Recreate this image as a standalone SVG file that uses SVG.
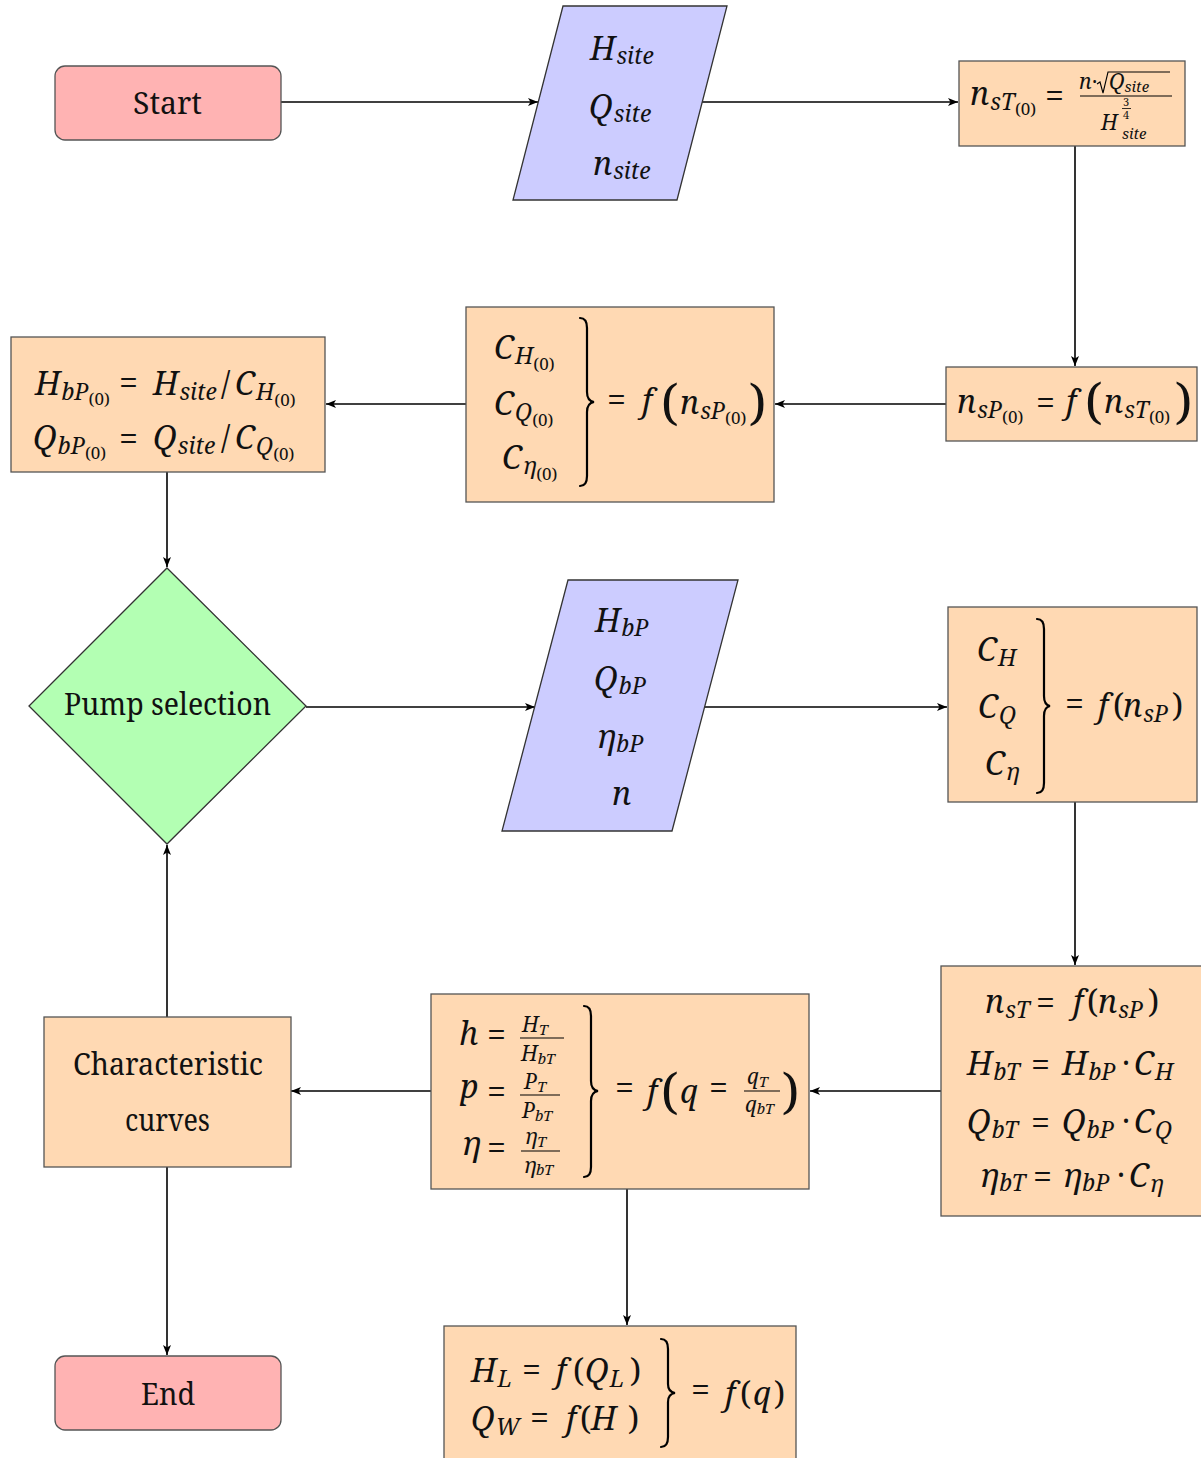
<svg xmlns="http://www.w3.org/2000/svg" width="1201" height="1458" viewBox="0 0 1201 1458">
<style>
.box{fill:#ffd9b3;stroke:#555;stroke-width:1.3}
.term{fill:#ffb3b3;stroke:#555;stroke-width:1.3}
.io{fill:#ccccff;stroke:#333;stroke-width:1.3}
.dec{fill:#b3ffb3;stroke:#333;stroke-width:1.3}
.edge{fill:none;stroke:#000;stroke-width:1.6;marker-end:url(#arr)}
.brace{fill:none;stroke:#000;stroke-width:2.2;stroke-linecap:round}
.bar{stroke:#000;stroke-width:1.2}
.t{font-size:31px}
.m{font-size:32px;font-style:italic}
.s{font-size:23px;font-style:italic}
.ss{font-size:17px;font-style:italic}
.f{font-size:21px;font-style:italic}
.fs{font-size:15px;font-style:italic}
.u{font-style:normal}
.eq{font-size:34px;font-style:normal}
.big{font-size:50px;font-style:normal}
</style>
<defs>
<marker id="arr" viewBox="0 0 10 8" refX="10" refY="4" markerWidth="10" markerHeight="8" markerUnits="userSpaceOnUse" orient="auto">
<path d="M0,0 L10,4 L0,8 L2.5,4 z" fill="#000"/>
</marker>
</defs>

<g id="connectors">
<path class="edge" d="M281,102 H538"/>
<path class="edge" d="M702,102 H958"/>
<path class="edge" d="M1075,146 V366"/>
<path class="edge" d="M946,404 H775"/>
<path class="edge" d="M466,404 H326"/>
<path class="edge" d="M167,472 V567"/>
<path class="edge" d="M306,707 H535"/>
<path class="edge" d="M705,707 H947"/>
<path class="edge" d="M1075,802 V965"/>
<path class="edge" d="M941,1091 H810"/>
<path class="edge" d="M431,1091 H291"/>
<path class="edge" d="M627,1189 V1325"/>
<path class="edge" d="M167,1017 V845"/>
<path class="edge" d="M167,1167 V1355"/>
</g>

<g font-family="'Noto Serif', 'Liberation Serif', serif" fill="#111">
<g id="start">
<rect class="term" x="55" y="66" width="226" height="74" rx="10"/>
<text class="t" x="133" y="114" textLength="69" lengthAdjust="spacingAndGlyphs">Start</text>
</g>

<g id="input-site">
<polygon class="io" points="563,6 727,6 677,200 513,200"/>
<text class="m"><tspan x="590" y="60">H</tspan><tspan class="s" dx="1" dy="4">site</tspan></text>
<text class="m"><tspan x="589" y="118">Q</tspan><tspan class="s" dx="1" dy="4">site</tspan></text>
<text class="m"><tspan x="593" y="175">n</tspan><tspan class="s" dx="1" dy="4">site</tspan></text>
</g>

<g id="nsT0">
<rect class="box" x="959" y="61" width="226" height="85"/>
<text class="m"><tspan x="970" y="105">n</tspan><tspan class="s" dx="1" dy="5">sT</tspan><tspan class="ss u" dy="5">(0)</tspan></text>
<text class="eq" x="1045" y="108">=</text>
<text class="f"><tspan x="1079" y="89">n</tspan><tspan class="u" x="1092" y="89">·</tspan><tspan x="1109" y="89">Q</tspan><tspan class="fs" dy="3">site</tspan></text>
<path d="M1097,84 L1100,82 L1103,93 L1108,72 L1170,72" fill="none" stroke="#000" stroke-width="1.1"/>
<line class="bar" x1="1080" y1="96" x2="1172" y2="96"/>
<text class="f" x="1101" y="130">H</text>
<text class="fs" x="1122" y="139">site</text>
<text font-size="11"><tspan x="1123" y="106">3</tspan><tspan x="1123" y="119">4</tspan></text>
<line x1="1122" y1="108.5" x2="1131" y2="108.5" stroke="#000" stroke-width="0.8"/>
</g>

<g id="nsP0">
<rect class="box" x="946" y="367" width="251" height="74"/>
<text class="m"><tspan x="957" y="413">n</tspan><tspan class="s" dx="1" dy="5">sP</tspan><tspan class="ss u" dy="5">(0)</tspan></text>
<text class="eq" x="1036" y="415">=</text>
<text class="m" x="1066" y="413">f</text>
<text class="big" x="1085" y="419">(</text>
<text class="m"><tspan x="1104" y="413">n</tspan><tspan class="s" dx="1" dy="5">sT</tspan><tspan class="ss u" dy="5">(0)</tspan></text>
<text class="big" x="1175" y="419">)</text>
</g>

<g id="coef0">
<rect class="box" x="466" y="307" width="308" height="195"/>
<text class="m"><tspan x="494" y="359">C</tspan><tspan class="s" dx="1" dy="5">H</tspan><tspan class="ss u" dy="6">(0)</tspan></text>
<text class="m"><tspan x="494" y="415">C</tspan><tspan class="s" dx="1" dy="5">Q</tspan><tspan class="ss u" dy="6">(0)</tspan></text>
<text class="m"><tspan x="502" y="469">C</tspan><tspan class="s" dx="1" dy="5">η</tspan><tspan class="ss u" dy="6">(0)</tspan></text>
<path class="brace" d="M580,318 Q587,318 587,328 L587,392 Q587,401 594,402 Q587,403 587,412 L587,476 Q587,486 580,486"/>
<text class="eq" x="607" y="412">=</text>
<text class="m" x="642" y="412">f</text>
<text class="big" x="661" y="420">(</text>
<text class="m"><tspan x="680" y="414">n</tspan><tspan class="s" dx="1" dy="5">sP</tspan><tspan class="ss u" dy="5">(0)</tspan></text>
<text class="big" x="749" y="420">)</text>
</g>

<g id="best0">
<rect class="box" x="11" y="337" width="314" height="135"/>
<text class="m"><tspan x="35" y="395">H</tspan><tspan class="s" dx="1" dy="5">bP</tspan><tspan class="ss u" dy="5">(0)</tspan><tspan class="eq" x="119" y="395">=</tspan><tspan x="153" y="395">H</tspan><tspan class="s" dx="1" dy="5">site</tspan><tspan class="u" x="221" y="395">/</tspan><tspan x="235" y="395">C</tspan><tspan class="s" dx="1" dy="5">H</tspan><tspan class="ss u" dy="6">(0)</tspan></text>
<text class="m"><tspan x="33" y="449">Q</tspan><tspan class="s" dx="1" dy="5">bP</tspan><tspan class="ss u" dy="5">(0)</tspan><tspan class="eq" x="119" y="451">=</tspan><tspan x="153" y="449">Q</tspan><tspan class="s" dx="1" dy="5">site</tspan><tspan class="u" x="221" y="449">/</tspan><tspan x="235" y="449">C</tspan><tspan class="s" dx="1" dy="5">Q</tspan><tspan class="ss u" dy="6">(0)</tspan></text>
</g>

<g id="pump-selection">
<polygon class="dec" points="167,568 306,706 167,844 29,706"/>
<text class="t" x="64" y="715" textLength="207" lengthAdjust="spacingAndGlyphs">Pump selection</text>
</g>

<g id="input-pump">
<polygon class="io" points="568,580 738,580 672,831 502,831"/>
<text class="m"><tspan x="595" y="632">H</tspan><tspan class="s" dx="1" dy="4">bP</tspan></text>
<text class="m"><tspan x="594" y="690">Q</tspan><tspan class="s" dx="1" dy="4">bP</tspan></text>
<text class="m"><tspan x="597" y="748">η</tspan><tspan class="s" dx="1" dy="4">bP</tspan></text>
<text class="m" x="612" y="805">n</text>
</g>

<g id="coef">
<rect class="box" x="948" y="607" width="249" height="195"/>
<text class="m"><tspan x="977" y="661">C</tspan><tspan class="s" dx="1" dy="5">H</tspan></text>
<text class="m"><tspan x="978" y="718">C</tspan><tspan class="s" dx="1" dy="5">Q</tspan></text>
<text class="m"><tspan x="985" y="775">C</tspan><tspan class="s" dx="1" dy="5">η</tspan></text>
<path class="brace" d="M1037,619 Q1044,619 1044,629 L1044,696 Q1044,705 1050,706 Q1044,707 1044,716 L1044,783 Q1044,793 1037,793"/>
<text class="eq" x="1065" y="716">=</text>
<text class="m"><tspan x="1098" y="717">f</tspan><tspan class="u" x="1113" y="717">(</tspan><tspan x="1123" y="717">n</tspan><tspan class="s" dx="1" dy="5">sP</tspan><tspan class="u" x="1172" y="717">)</tspan></text>
</g>

<g id="turbine">
<rect class="box" x="941" y="966" width="262" height="250"/>
<text class="m"><tspan x="985" y="1013">n</tspan><tspan class="s" dx="1" dy="5">sT</tspan><tspan class="eq" x="1036" y="1015">=</tspan><tspan x="1073" y="1013">f</tspan><tspan class="u" x="1087" y="1013">(</tspan><tspan x="1098" y="1013">n</tspan><tspan class="s" dx="1" dy="5">sP</tspan><tspan class="u" x="1148" y="1013">)</tspan></text>
<text class="m"><tspan x="967" y="1075">H</tspan><tspan class="s" dx="1" dy="5">bT</tspan><tspan class="eq" x="1031" y="1077">=</tspan><tspan x="1062" y="1075">H</tspan><tspan class="s" dx="1" dy="5">bP</tspan><tspan class="u" x="1122" y="1075">·</tspan><tspan x="1134" y="1075">C</tspan><tspan class="s" dx="1" dy="5">H</tspan></text>
<text class="m"><tspan x="967" y="1133">Q</tspan><tspan class="s" dx="1" dy="5">bT</tspan><tspan class="eq" x="1031" y="1135">=</tspan><tspan x="1062" y="1133">Q</tspan><tspan class="s" dx="1" dy="5">bP</tspan><tspan class="u" x="1122" y="1133">·</tspan><tspan x="1134" y="1133">C</tspan><tspan class="s" dx="1" dy="5">Q</tspan></text>
<text class="m"><tspan x="980" y="1187">η</tspan><tspan class="s" dx="1" dy="4">bT</tspan><tspan class="eq" x="1033" y="1189">=</tspan><tspan x="1063" y="1187">η</tspan><tspan class="s" dx="1" dy="4">bP</tspan><tspan class="u" x="1117" y="1187">·</tspan><tspan x="1129" y="1187">C</tspan><tspan class="s" dx="1" dy="5">η</tspan></text>
</g>

<g id="dimensionless">
<rect class="box" x="431" y="994" width="378" height="195"/>
<text class="m"><tspan x="459" y="1045">h</tspan><tspan class="eq" x="487" y="1047">=</tspan></text>
<text class="f"><tspan x="522" y="1032">H</tspan><tspan class="fs" dy="3">T</tspan></text>
<line class="bar" x1="520" y1="1038" x2="564" y2="1038"/>
<text class="f"><tspan x="521" y="1061">H</tspan><tspan class="fs" dy="3">bT</tspan></text>
<text class="m"><tspan x="460" y="1098">p</tspan><tspan class="eq" x="487" y="1104">=</tspan></text>
<text class="f"><tspan x="524" y="1089">P</tspan><tspan class="fs" dy="3">T</tspan></text>
<line class="bar" x1="520" y1="1095" x2="560" y2="1095"/>
<text class="f"><tspan x="522" y="1118">P</tspan><tspan class="fs" dy="3">bT</tspan></text>
<text class="m"><tspan x="462" y="1155">η</tspan><tspan class="eq" x="487" y="1160">=</tspan></text>
<text class="f"><tspan x="525" y="1144">η</tspan><tspan class="fs" dy="3">T</tspan></text>
<line class="bar" x1="521" y1="1151" x2="560" y2="1151"/>
<text class="f"><tspan x="524" y="1173">η</tspan><tspan class="fs" dy="2">bT</tspan></text>
<path class="brace" d="M584,1006 Q591,1006 591,1016 L591,1081 Q591,1090 598,1091 Q591,1092 591,1101 L591,1167 Q591,1177 584,1177"/>
<text class="eq" x="615" y="1100">=</text>
<text class="m" x="647" y="1103">f</text>
<text class="big" x="661" y="1109">(</text>
<text class="m"><tspan x="680" y="1103">q</tspan><tspan class="eq" x="709" y="1100">=</tspan></text>
<text class="f"><tspan x="747" y="1084">q</tspan><tspan class="fs" dy="3">T</tspan></text>
<line class="bar" x1="744" y1="1091" x2="780" y2="1091"/>
<text class="f"><tspan x="745" y="1112">q</tspan><tspan class="fs" dy="2">bT</tspan></text>
<text class="big" x="782" y="1109">)</text>
</g>

<g id="curves-functions">
<rect class="box" x="444" y="1326" width="352" height="140"/>
<text class="m"><tspan x="471" y="1382">H</tspan><tspan class="s" dx="1" dy="5">L</tspan><tspan class="eq" x="522" y="1382">=</tspan><tspan x="556" y="1382">f</tspan><tspan class="u" x="573" y="1382">(</tspan><tspan x="585" y="1382">Q</tspan><tspan class="s" dx="1" dy="5">L</tspan><tspan class="u" x="630" y="1382">)</tspan></text>
<text class="m"><tspan x="471" y="1430">Q</tspan><tspan class="s" dx="1" dy="5">W</tspan><tspan class="eq" x="530" y="1430">=</tspan><tspan x="566" y="1430">f</tspan><tspan class="u" x="580" y="1430">(</tspan><tspan x="591" y="1430">H</tspan><tspan class="u" x="628" y="1430">)</tspan></text>
<path class="brace" d="M661,1339 Q668,1339 668,1349 L668,1384 Q668,1392 675,1393 Q668,1394 668,1402 L668,1437 Q668,1447 661,1447"/>
<text class="eq" x="691" y="1402">=</text>
<text class="m"><tspan x="725" y="1405">f</tspan><tspan class="u" x="740" y="1405">(</tspan><tspan x="753" y="1405">q</tspan><tspan class="u" x="774" y="1405">)</tspan></text>
</g>

<g id="characteristic-curves">
<rect class="box" x="44" y="1017" width="247" height="150"/>
<text class="t" x="73" y="1075" textLength="190" lengthAdjust="spacingAndGlyphs">Characteristic</text>
<text class="t" x="125" y="1131" textLength="85" lengthAdjust="spacingAndGlyphs">curves</text>
</g>

<g id="end">
<rect class="term" x="55" y="1356" width="226" height="74" rx="10"/>
<text class="t" x="141" y="1405" textLength="54" lengthAdjust="spacingAndGlyphs">End</text>
</g>
</g>
</svg>
